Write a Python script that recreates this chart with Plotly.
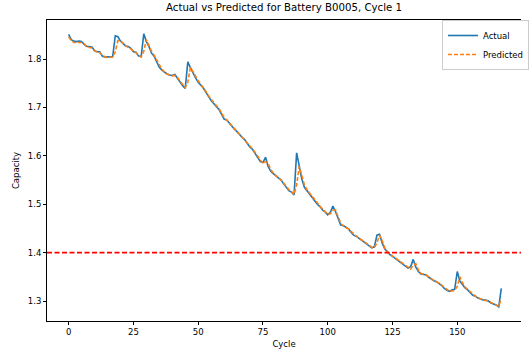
import plotly.graph_objects as go

cycles = list(range(168))

actual = [
    1.851, 1.840, 1.837, 1.836, 1.837, 1.836, 1.830, 1.826, 1.826, 1.825,
    1.817, 1.815, 1.815, 1.806, 1.804, 1.804, 1.804, 1.805, 1.848, 1.846,
    1.837, 1.832, 1.827, 1.826, 1.822, 1.815, 1.814, 1.806, 1.805, 1.852,
    1.836, 1.826, 1.812, 1.806, 1.795, 1.783, 1.777, 1.772, 1.769, 1.767,
    1.766, 1.768, 1.760, 1.751, 1.745, 1.739, 1.794, 1.782, 1.770, 1.761,
    1.752, 1.746, 1.740, 1.731, 1.721, 1.714, 1.708, 1.703, 1.696, 1.686,
    1.676, 1.674, 1.667, 1.660, 1.655, 1.650, 1.643, 1.638, 1.633, 1.625,
    1.618, 1.613, 1.605, 1.598, 1.588, 1.586, 1.597, 1.578, 1.568, 1.563,
    1.559, 1.555, 1.550, 1.542, 1.535, 1.528, 1.525, 1.519, 1.606, 1.575,
    1.552, 1.535, 1.528, 1.520, 1.515, 1.508, 1.500, 1.495, 1.488, 1.484,
    1.478, 1.483, 1.496, 1.485, 1.470, 1.457, 1.456, 1.452, 1.449, 1.442,
    1.436, 1.434, 1.430, 1.426, 1.422, 1.418, 1.414, 1.410, 1.412, 1.436,
    1.438, 1.420, 1.408, 1.401, 1.396, 1.392, 1.388, 1.384, 1.380, 1.376,
    1.373, 1.368, 1.371, 1.386, 1.370, 1.361, 1.356, 1.355, 1.354, 1.349,
    1.345, 1.342, 1.340, 1.336, 1.332, 1.326, 1.322, 1.320, 1.323, 1.324,
    1.361, 1.341, 1.334, 1.327, 1.323, 1.318, 1.312, 1.310, 1.306, 1.304,
    1.302, 1.302, 1.300, 1.296, 1.294, 1.292, 1.288, 1.326,
]

predicted = [
    1.846, 1.838, 1.834, 1.834, 1.835, 1.834, 1.831, 1.826, 1.824, 1.823,
    1.818, 1.814, 1.813, 1.808, 1.804, 1.803, 1.803, 1.804, 1.815, 1.838,
    1.838, 1.832, 1.827, 1.824, 1.821, 1.816, 1.813, 1.808, 1.804, 1.816,
    1.840, 1.828, 1.816, 1.808, 1.798, 1.787, 1.779, 1.773, 1.769, 1.767,
    1.765, 1.766, 1.762, 1.754, 1.747, 1.741, 1.752, 1.782, 1.774, 1.764,
    1.755, 1.748, 1.741, 1.733, 1.724, 1.716, 1.710, 1.704, 1.698, 1.689,
    1.679, 1.674, 1.668, 1.662, 1.656, 1.651, 1.645, 1.639, 1.634, 1.627,
    1.620, 1.614, 1.607, 1.600, 1.591, 1.584, 1.588, 1.585, 1.571, 1.564,
    1.559, 1.555, 1.550, 1.544, 1.537, 1.530, 1.526, 1.520, 1.540, 1.578,
    1.560, 1.540, 1.530, 1.522, 1.516, 1.510, 1.502, 1.496, 1.490, 1.485,
    1.479, 1.480, 1.487, 1.488, 1.474, 1.461, 1.455, 1.452, 1.449, 1.444,
    1.438, 1.434, 1.430, 1.427, 1.423, 1.419, 1.415, 1.411, 1.410, 1.420,
    1.436, 1.425, 1.410, 1.402, 1.397, 1.393, 1.389, 1.385, 1.381, 1.377,
    1.374, 1.369, 1.366, 1.374, 1.377, 1.364, 1.357, 1.355, 1.354, 1.350,
    1.346, 1.342, 1.340, 1.337, 1.333, 1.328, 1.323, 1.320, 1.321, 1.322,
    1.330, 1.350, 1.338, 1.329, 1.324, 1.319, 1.314, 1.310, 1.307, 1.304,
    1.302, 1.301, 1.300, 1.297, 1.294, 1.291, 1.289, 1.305,
]

threshold = 1.4
x_ticks = [0, 25, 50, 75, 100, 125, 150]
y_ticks = [1.3, 1.4, 1.5, 1.6, 1.7, 1.8]

FONT = "DejaVu Sans"

fig = go.Figure()
fig.add_trace(go.Scatter(
    x=cycles, y=actual, mode="lines", name="Actual",
    line=dict(color="#1f77b4", width=1.6),
))
fig.add_trace(go.Scatter(
    x=cycles, y=predicted, mode="lines", name="Predicted",
    line=dict(color="#ff7f0e", width=1.6, dash="4px,2px"),
))
fig.add_hline(y=threshold, line=dict(color="red", width=1.6, dash="5px,2.5px"))

fig.update_layout(
    width=529, height=350,
    margin=dict(l=47, r=0, t=20, b=29),
    paper_bgcolor="white", plot_bgcolor="white",
    font=dict(family=FONT, size=8.5, color="black"),
    title=dict(
        text="Actual vs Predicted for Battery B0005, Cycle 1",
        x=0.5, xref="paper", xanchor="center",
        y=1, yref="container", yanchor="top", pad=dict(t=4),
        font=dict(family=FONT, size=10.2, color="black"),
    ),
    showlegend=True,
    legend=dict(
        x=0.834, y=1.0, xanchor="left", yanchor="top",
        bgcolor="rgba(255,255,255,0.8)", bordercolor="#cccccc", borderwidth=1,
        font=dict(family=FONT, size=8.5, color="black"),
        tracegroupgap=0, itemwidth=30,
    ),
)

fig.update_xaxes(
    range=[-8.35, 174.6],
    tickmode="array", tickvals=x_ticks, ticktext=[str(v) for v in x_ticks],
    showgrid=False, zeroline=False,
    showline=True, linecolor="black", linewidth=1, mirror=True,
    ticks="outside", ticklen=3, tickwidth=0.8, tickcolor="black",
    title=dict(text="Cycle", standoff=4, font=dict(family=FONT, size=8.5, color="black")),
)
fig.update_yaxes(
    range=[1.2587, 1.8806],
    tickmode="array", tickvals=y_ticks, ticktext=[f"{v:.1f}" for v in y_ticks],
    showgrid=False, zeroline=False,
    showline=True, linecolor="black", linewidth=1, mirror=False,
    ticks="outside", ticklen=3, tickwidth=0.8, tickcolor="black",
    title=dict(text="Capacity", standoff=6, font=dict(family=FONT, size=8.5, color="black")),
)

fig.write_html(
    "out.html",
    config={"displayModeBar": False},
    post_script="document.body.style.margin='0';document.body.style.overflow='hidden';",
)
